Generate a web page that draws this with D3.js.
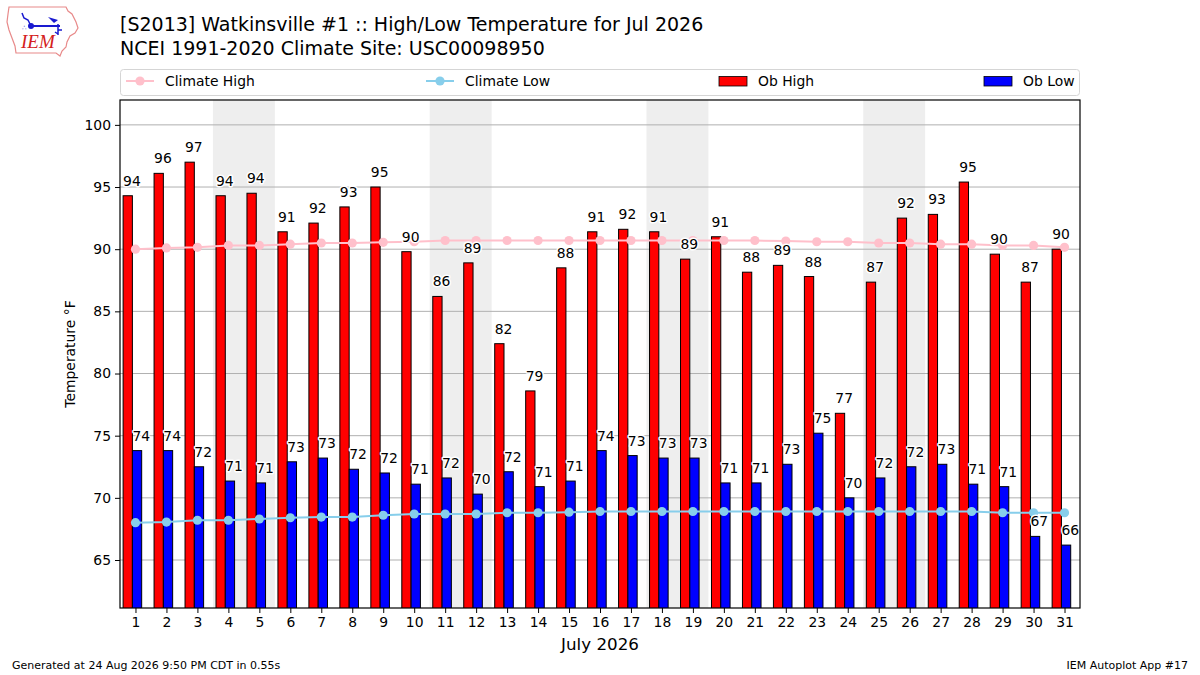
<!DOCTYPE html>
<html><head><meta charset="utf-8">
<script src="https://cdn.jsdelivr.net/npm/d3@7/dist/d3.min.js"></script>
<style>
body{margin:0;background:#fff;}
svg{display:block;font-family:"DejaVu Sans",sans-serif;}
</style></head>
<body>
<svg id="chart" width="1200" height="675"></svg>
<script>
const days = d3.range(1, 32);
const obHigh = [94.3,96.1,97.0,94.3,94.5,91.4,92.1,93.4,95.0,89.8,86.2,88.9,82.4,78.6,88.5,91.4,91.6,91.4,89.2,91.0,88.15,88.7,87.8,76.8,87.35,92.5,92.8,95.4,89.6,87.35,90.0];
const obHighLabels = [94,96,97,94,94,91,92,93,95,90,86,89,82,79,88,91,92,91,89,91,88,89,88,77,87,92,93,95,90,87,90];
const obLow = [73.8,73.8,72.5,71.35,71.2,72.9,73.2,72.3,72.0,71.1,71.6,70.3,72.1,70.9,71.35,73.8,73.4,73.2,73.2,71.2,71.2,72.7,75.2,70.0,71.6,72.5,72.7,71.1,70.9,66.9,66.2];
const obLowLabels = [74,74,72,71,71,73,73,72,72,71,72,70,72,71,71,74,73,73,73,71,71,73,75,70,72,72,73,71,71,67,66];
const climHigh = [90.0,90.1,90.15,90.3,90.3,90.4,90.5,90.5,90.55,90.6,90.7,90.7,90.7,90.7,90.7,90.7,90.7,90.7,90.7,90.7,90.7,90.65,90.6,90.6,90.5,90.5,90.4,90.4,90.3,90.3,90.15];
const climLow = [68.0,68.05,68.2,68.2,68.3,68.4,68.45,68.45,68.6,68.7,68.7,68.7,68.8,68.8,68.85,68.9,68.9,68.9,68.9,68.9,68.9,68.9,68.9,68.9,68.9,68.9,68.9,68.9,68.8,68.8,68.8];
const weekendStarts = [4, 11, 18, 25];
const yTicks = [65,70,75,80,85,90,95,100];

const svg = d3.select("#chart");
const L = 120, R = 1080, T = 100, B = 608;
const x = d3.scaleLinear().domain([0.5, 31.5]).range([L, R]);
const y = d3.scaleLinear().domain([61.14, 102.0]).range([B, T]);

// logo
const logo = svg.append("g");
logo.append("path")
  .attr("d","M9,7 L66,7 L68,11 L72,14 L76,22 L78,28 L75,33 L70,36 L67,42 L66,47 L62,51 L60,56 L56,53 L16,53 L15,46 L12,38 L9,30 L7,22 L8,14 Z")
  .attr("fill","none").attr("stroke","#e88a8a").attr("stroke-width",1.2);
logo.append("line").attr("x1",31).attr("y1",26).attr("x2",60).attr("y2",26).attr("stroke","#1a1ad0").attr("stroke-width",2);
logo.append("circle").attr("cx",31).attr("cy",26).attr("r",3).attr("fill","#1a1ad0");
logo.append("path").attr("d","M22,13 L24,18 L28,20 L31,26").attr("fill","none").attr("stroke","#1a1ad0").attr("stroke-width",1.5);
logo.append("path").attr("d","M48,17 L58,20 L54,23 Z").attr("fill","#1a1ad0");
logo.append("path").attr("d","M58,24 L58,35 M58,30 L62,30 M55,32 L58,34").attr("fill","none").attr("stroke","#1a1ad0").attr("stroke-width",1.5);
logo.append("text").attr("x",22).attr("y",30).attr("font-size",7).attr("fill","#1a1ad0").text("∴");
logo.append("text").attr("x",21).attr("y",48).attr("font-family","'Liberation Serif',serif").attr("font-style","italic")
  .attr("font-size",19).attr("fill","#d42020").text("IEM");

// titles
svg.append("text").attr("x",120).attr("y",31).attr("font-size",19).attr("fill","#000")
  .text("[S2013] Watkinsville #1 :: High/Low Temperature for Jul 2026");
svg.append("text").attr("x",120).attr("y",55).attr("font-size",19).attr("fill","#000")
  .text("NCEI 1991-2020 Climate Site: USC00098950");

// weekend shading
svg.append("g").selectAll("rect").data(weekendStarts).join("rect")
  .attr("x", d => x(d - 0.5)).attr("width", d => x(d + 1.5) - x(d - 0.5))
  .attr("y", T).attr("height", B - T).attr("fill", "#eeeeee");

// grid
svg.append("g").selectAll("line").data(yTicks).join("line")
  .attr("x1", L).attr("x2", R).attr("y1", d => y(d)).attr("y2", d => y(d))
  .attr("stroke", "#b0b0b0").attr("stroke-width", 1);

// bars
svg.append("clipPath").attr("id","plotclip").append("rect").attr("x",L).attr("y",T).attr("width",R-L).attr("height",B-T);
const bars = svg.append("g").attr("clip-path","url(#plotclip)");
bars.selectAll("rect.hi").data(days).join("rect").attr("class","hi")
  .attr("x", d => x(d - 0.4)).attr("width", d => x(d - 0.1) - x(d - 0.4))
  .attr("y", (d,i) => y(obHigh[i])).attr("height", (d,i) => B + 2 - y(obHigh[i]))
  .attr("fill", "#ff0000").attr("stroke", "#000").attr("stroke-width", 1);
bars.selectAll("rect.lo").data(days).join("rect").attr("class","lo")
  .attr("x", d => x(d - 0.1)).attr("width", d => x(d + 0.2) - x(d - 0.1))
  .attr("y", (d,i) => y(obLow[i])).attr("height", (d,i) => B + 2 - y(obLow[i]))
  .attr("fill", "#0000ff").attr("stroke", "#000").attr("stroke-width", 1);

// climate lines
const line = d3.line().x(d => x(d[0])).y(d => y(d[1]));
function climate(vals, color) {
  const pts = days.map((d,i) => [d, vals[i]]);
  const g = svg.append("g");
  g.append("path").attr("d", line(pts)).attr("fill","none").attr("stroke",color).attr("stroke-width",2);
  g.selectAll("circle").data(pts).join("circle")
    .attr("cx", d => x(d[0])).attr("cy", d => y(d[1])).attr("r", 4.6).attr("fill", color);
}
climate(climHigh, "#ffc0cb");
climate(climLow, "#87ceeb");

// bar labels
function labels(vals, labs, off) {
  svg.append("g").selectAll("text").data(days).join("text")
    .attr("x", d => x(d + off)).attr("y", (d,i) => y(vals[i]) - 10)
    .attr("font-size", 13.9).attr("fill", "#000")
    .attr("stroke", "#fff").attr("stroke-width", 3).attr("paint-order", "stroke").attr("stroke-linejoin","round")
    .text((d,i) => labs[i]);
}
labels(obHigh, obHighLabels, -0.4);
labels(obLow, obLowLabels, -0.1);

// axes frame
svg.append("rect").attr("x", L).attr("y", T).attr("width", R - L).attr("height", B - T)
  .attr("fill", "none").attr("stroke", "#000").attr("stroke-width", 1.2);

// x axis
const xAxis = svg.append("g").attr("transform", `translate(0,${B})`)
  .call(d3.axisBottom(x).tickValues(days).tickFormat(d3.format("d")).tickSize(5).tickPadding(4));
xAxis.select(".domain").remove();
xAxis.selectAll("text").attr("font-size", 13.9).attr("font-family", "DejaVu Sans").attr("fill","#000");
xAxis.selectAll("line").attr("stroke","#000");

// y axis
const yAxis = svg.append("g").attr("transform", `translate(${L},0)`)
  .call(d3.axisLeft(y).tickValues(yTicks).tickFormat(d3.format("d")).tickSize(5).tickPadding(4));
yAxis.select(".domain").remove();
yAxis.selectAll("text").attr("font-size", 13.9).attr("font-family", "DejaVu Sans").attr("fill","#000");
yAxis.selectAll("line").attr("stroke","#000");

svg.append("text").attr("x", (L + R) / 2).attr("y", 650).attr("text-anchor", "middle")
  .attr("font-size", 16.7).text("July 2026");
svg.append("text").attr("transform", `translate(75,${(T + B) / 2}) rotate(-90)`).attr("text-anchor", "middle")
  .attr("font-size", 13.9).text("Temperature °F");

// legend
const lg = svg.append("g");
lg.append("rect").attr("x", 120.5).attr("y", 69.5).attr("width", 959).attr("height", 26).attr("rx", 3)
  .attr("fill", "#fff").attr("stroke", "#d5d5d5").attr("stroke-width", 1);
const legendItems = [
  {name: "Climate High", type: "line", color: "#ffc0cb", x: 126},
  {name: "Climate Low", type: "line", color: "#87ceeb", x: 426},
  {name: "Ob High", type: "rect", color: "#ff0000", x: 719},
  {name: "Ob Low", type: "rect", color: "#0000ff", x: 984}
];
legendItems.forEach(it => {
  if (it.type === "line") {
    lg.append("line").attr("x1", it.x).attr("x2", it.x + 28).attr("y1", 81).attr("y2", 81).attr("stroke", it.color).attr("stroke-width", 2);
    lg.append("circle").attr("cx", it.x + 14).attr("cy", 81).attr("r", 4.6).attr("fill", it.color);
  } else {
    lg.append("rect").attr("x", it.x).attr("y", 76.5).attr("width", 28).attr("height", 9.5).attr("fill", it.color).attr("stroke", "#000").attr("stroke-width", 0.8);
  }
  lg.append("text").attr("x", it.x + 39).attr("y", 86).attr("font-size", 13.9).text(it.name);
});

// footer
svg.append("text").attr("x", 12).attr("y", 669).attr("font-size", 11).text("Generated at 24 Aug 2026 9:50 PM CDT in 0.55s");
svg.append("text").attr("x", 1188).attr("y", 669).attr("font-size", 11).attr("text-anchor", "end").text("IEM Autoplot App #17");
</script>
</body></html>
